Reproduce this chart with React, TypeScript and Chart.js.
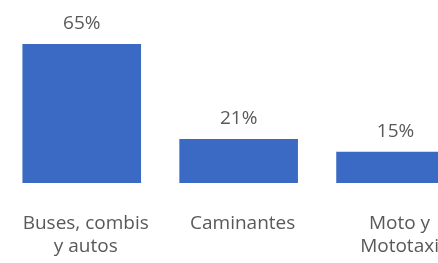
import React, { useEffect, useRef } from "react";
import { Chart, registerables } from "chart.js";

Chart.register(...registerables);

const categories: string[][] = [["Buses, combis", "y autos"], ["Caminantes"], ["Moto y", "Mototaxi"]];
const values: number[] = [64.7, 20.5, 14.5];
const valueLabels: string[] = ["65%", "21%", "15%"];

const BAR_COLOR = "#3A6AC3";
const TEXT_COLOR = "#595959";
const FONT = "'Open Sans', 'Segoe UI', sans-serif";

const valueLabelPlugin = {
  id: "valueLabels",
  afterDatasetsDraw(chart: any) {
    const ctx = chart.ctx;
    const meta = chart.getDatasetMeta(0);
    ctx.save();
    ctx.fillStyle = TEXT_COLOR;
    ctx.font = `19px ${FONT}`;
    ctx.textAlign = "center";
    ctx.textBaseline = "alphabetic";
    meta.data.forEach((bar: any, i: number) => {
      ctx.fillText(valueLabels[i], bar.x, bar.y - 15);
    });
    ctx.restore();
  },
};

export default function App() {
  const ref = useRef<HTMLCanvasElement | null>(null);
  useEffect(() => {
    if (!ref.current) return;
    const chart = new Chart(ref.current, {
      type: "bar",
      data: {
        labels: categories,
        datasets: [
          {
            data: values,
            backgroundColor: BAR_COLOR,
            borderWidth: 0,
            categoryPercentage: 1,
            barPercentage: 0.756,
          },
        ],
      },
      options: {
        responsive: false,
        animation: false,
        layout: { padding: { left: 4, right: 4, top: 32.5, bottom: 13 } },
        plugins: { legend: { display: false }, tooltip: { enabled: false } },
        scales: {
          x: {
            grid: { display: false, drawTicks: false },
            border: { display: false },
            ticks: {
              color: TEXT_COLOR,
              padding: 29,
              labelOffset: 4,
              maxRotation: 0,
              autoSkip: false,
              font: { family: FONT, size: 19, lineHeight: 1.21 },
            },
          },
          y: {
            display: false,
            min: 0,
            max: 70,
          },
        },
      },
      plugins: [valueLabelPlugin],
    });
    return () => chart.destroy();
  }, []);
  return (
    <div style={{ position: "fixed", left: 0, top: 0, width: 438, height: 263, overflow: "hidden", background: "#fff" }}>
      <canvas ref={ref} width={489} height={300} style={{ display: "block", marginLeft: -11 }} />
    </div>
  );
}
